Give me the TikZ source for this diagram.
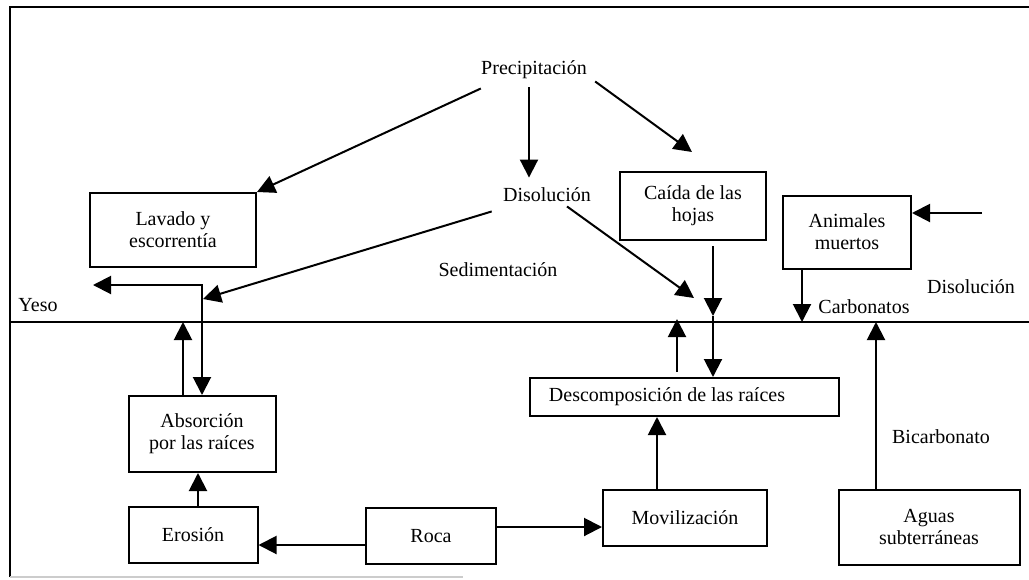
\documentclass[tikz,border=0pt]{standalone}
\usepackage{fontspec}
\setmainfont{Liberation Serif}
\usetikzlibrary{arrows.meta,calc}
\begin{document}
\begin{tikzpicture}[x=0.5pt,y=-0.5pt,
  box/.style={draw,line width=1pt,inner sep=0pt,align=center,font=\fontsize{10}{11}\selectfont},
  lbl/.style={inner sep=0pt,font=\fontsize{10}{11}\selectfont},
  arr/.style={-{Triangle[length=9pt,width=9pt]},line width=1pt},
  arr2/.style={{Triangle[length=9pt,width=9pt]}-{Triangle[length=9pt,width=9pt]},line width=1pt}]
\useasboundingbox (0,0) rectangle (1029,579);
\draw[line width=1.4pt] (10,577) -- (10,7) -- (1029,7);
\draw[line width=1pt,gray!40] (10,577) -- (463,577);
\coordinate (gl-l) at (10,322);
\coordinate (gl-r) at (1029,322);
\draw[line width=1pt] (gl-l) -- (gl-r);

\node[lbl] (prec) at (534,70) {Precipitación};
\node[lbl] (dis) at (547,195) {Disolución};
\node[lbl] (sed) at (498,270) {Sedimentación};
\node[lbl] (dis2) at (971,287) {Disolución};
\node[lbl] (yeso) at (38,305) {Yeso};
\node[lbl] (carb) at (864,307) {Carbonatos};
\node[lbl] (bicarb) at (941,437) {Bicarbonato};

\node[box,minimum width=83pt,minimum height=37pt] (lav) at (173,230) {Lavado y\\escorrentía};
\node[box,minimum width=73pt,minimum height=34pt] (caida) at (693,206) {Caída de las\\hojas};
\node[box,minimum width=64pt,minimum height=36.5pt] (anim) at (847,232) {Animales\\muertos};
\node[box,minimum width=73.5pt,minimum height=38pt] (abs) at (202,434) {Absorción\\por las raíces};
\node[box,minimum width=64.5pt,minimum height=28pt] (ero) at (193,535) {Erosión};
\node[box,minimum width=65pt,minimum height=28pt] (roca) at (431,536) {Roca};
\node[box,minimum width=82pt,minimum height=28pt] (mov) at (685,518) {Movilización};
\node[box,minimum width=90.5pt,minimum height=37.5pt] (agu) at (929,527) {Aguas\\subterráneas};
\node[box,minimum width=154.5pt,minimum height=19pt] (desc) at (684,397) {Descomposición de las raíces\hspace*{17pt}};

\draw[arr] ($(prec.south west)+(0,9)$) -- (lav.north east);
\draw[arr] ($(prec.south)+(-5,8)$) -- ($(dis.north)+(-18,-10)$);
\draw[arr] ($(prec.south east)+(8,2)$) -- ($(caida.north)+(-1,-19)$);
\coordinate (yesoend) at (93,285);
\draw[arr2] (yesoend) -| (abs.north);
\draw[arr] ($(dis.south west)+(-11,9)$) -- ($(abs.north)+(1,-96)$);
\coordinate (absup) at ($(abs.north)+(-19,0)$);
\draw[arr] (absup) -- (absup |- gl-l);
\coordinate (eroup) at ($(ero.north)+(5,0)$);
\draw[arr] (eroup) -- (eroup |- abs.south);
\coordinate (rocal) at ($(roca.west)+(0,9)$);
\draw[arr] (rocal) -- (rocal -| ero.east);
\coordinate (rocar) at ($(roca.east)+(0,-9)$);
\draw[arr] (rocar) -- (rocar -| mov.west);
\coordinate (movup) at ($(mov.north)+(-28,0)$);
\draw[arr] (movup) -- (movup |- desc.south);
\coordinate (descup) at ($(desc.north)+(-7,-5)$);
\draw[arr] (descup) -- ($(descup |- gl-l)+(0,-3)$);
\coordinate (caidadn) at ($(caida.south)+(20,5)$);
\coordinate (caidamid) at ($(caidadn |- gl-l)+(0,-6)$);
\draw[arr] (caidadn) -- (caidamid);
\draw[arr] (caidamid) -- (caidamid |- desc.north);
\coordinate (descin) at (694,298);
\draw[arr] ($(dis.south)+(20,4)$) -- (descin);
\coordinate (animdn) at ($(anim.south)+(-45,0)$);
\draw[arr] (animdn) -- (animdn |- gl-l);
\coordinate (animin) at (982,213);
\draw[arr] (animin) -- (animin -| anim.east);
\coordinate (aguup) at ($(agu.north)+(-53,0)$);
\draw[arr] (aguup) -- (aguup |- gl-l);
\end{tikzpicture}
\end{document}
